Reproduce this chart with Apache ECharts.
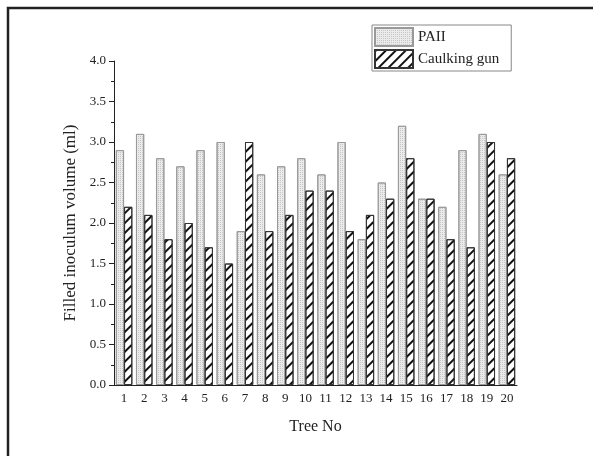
<!DOCTYPE html>
<html>
<head>
<meta charset="utf-8">
<script src="https://cdn.jsdelivr.net/npm/echarts@6/dist/echarts.min.js"></script>
<style>
    html, body { margin: 0; padding: 0; background: #fff; }
    #chart { width: 593px; height: 456px; }
</style>
</head>
<body>
<div id="chart"></div>
<script>
    // data
    var treeNo = ['1','2','3','4','5','6','7','8','9','10','11','12','13','14','15','16','17','18','19','20'];
    var paii = [2.9, 3.1, 2.8, 2.7, 2.9, 3.0, 1.9, 2.6, 2.7, 2.8, 2.6, 3.0, 1.8, 2.5, 3.2, 2.3, 2.2, 2.9, 3.1, 2.6];
    var caulkingGun = [2.2, 2.1, 1.8, 2.0, 1.7, 1.5, 3.0, 1.9, 2.1, 2.4, 2.4, 1.9, 2.1, 2.3, 2.8, 2.3, 1.8, 1.7, 3.0, 2.8];

    var serif = '"Liberation Serif", "DejaVu Serif", serif';
    var myChart = echarts.init(document.getElementById('chart'));

    myChart.setOption({
        animation: false,
        backgroundColor: '#fff',
        textStyle: { fontFamily: serif },
        // outer frame of the original figure (top and left edges only)
        graphic: [{
            type: 'polyline',
            shape: { points: [[8, 456], [8, 8], [593, 8]] },
            style: { stroke: '#222', lineWidth: 2.5, fill: null },
            silent: true
        }],
        legend: {
            orient: 'vertical',
            left: 372,
            top: 25,
            icon: 'rect',
            itemWidth: 38,
            itemHeight: 18,
            itemGap: 2,
            padding: [2, 12, 2, 2],
            borderColor: '#888',
            borderWidth: 1,
            textStyle: { fontFamily: serif, fontSize: 15, color: '#222' },
            data: ['PAII', 'Caulking gun']
        },
        grid: { left: 114, right: 76, top: 61, bottom: 71 },
        xAxis: [{
            type: 'category',
            data: treeNo,
            name: 'Tree No',
            nameLocation: 'middle',
            nameGap: 34,
            nameTextStyle: { fontFamily: serif, fontSize: 16, color: '#222' },
            axisLine: { lineStyle: { color: '#222', width: 1 } },
            axisTick: { interval: 0, length: 3, lineStyle: { color: '#222' } },
            axisLabel: { interval: 0, margin: 7, fontFamily: serif, fontSize: 13, color: '#222' }
        }, {
            // second copy only for the ticks under each label
            type: 'category',
            data: treeNo,
            position: 'bottom',
            axisLine: { show: false },
            axisTick: { alignWithLabel: true, interval: 0, length: 5, lineStyle: { color: '#222' } },
            axisLabel: { show: false }
        }],
        yAxis: {
            type: 'value',
            min: 0,
            max: 4,
            interval: 0.5,
            name: 'Filled inoculum volume (ml)',
            nameLocation: 'middle',
            nameGap: 35,
            nameTextStyle: { fontFamily: serif, fontSize: 17, color: '#222' },
            axisLine: { show: true, lineStyle: { color: '#222', width: 1 } },
            axisTick: { show: true, length: 5, lineStyle: { color: '#222' } },
            minorTick: { show: true, splitNumber: 2, length: 3, lineStyle: { color: '#222' } },
            splitLine: { show: false },
            axisLabel: {
                margin: 8,
                fontFamily: serif,
                fontSize: 13,
                color: '#222',
                formatter: function (v) { return v.toFixed(1); }
            }
        },
        series: [{
            name: 'PAII',
            type: 'bar',
            data: paii,
            barGap: '0%',
            barCategoryGap: '18%',
            itemStyle: {
                color: '#ebebeb',
                borderColor: '#999',
                borderWidth: 1,
                decal: {
                    symbol: 'rect',
                    symbolSize: 1,
                    dashArrayX: [1, 1],
                    dashArrayY: [1, 1],
                    color: '#c6c6c6'
                }
            }
        }, {
            name: 'Caulking gun',
            type: 'bar',
            data: caulkingGun,
            itemStyle: {
                color: '#fff',
                borderColor: '#333',
                borderWidth: 1,
                decal: {
                    symbol: 'rect',
                    symbolSize: 1,
                    dashArrayX: [1, 0],
                    dashArrayY: [1.2, 4.8],
                    rotation: -Math.PI / 4,
                    color: '#111'
                }
            }
        }]
    });
</script>
</body>
</html>
